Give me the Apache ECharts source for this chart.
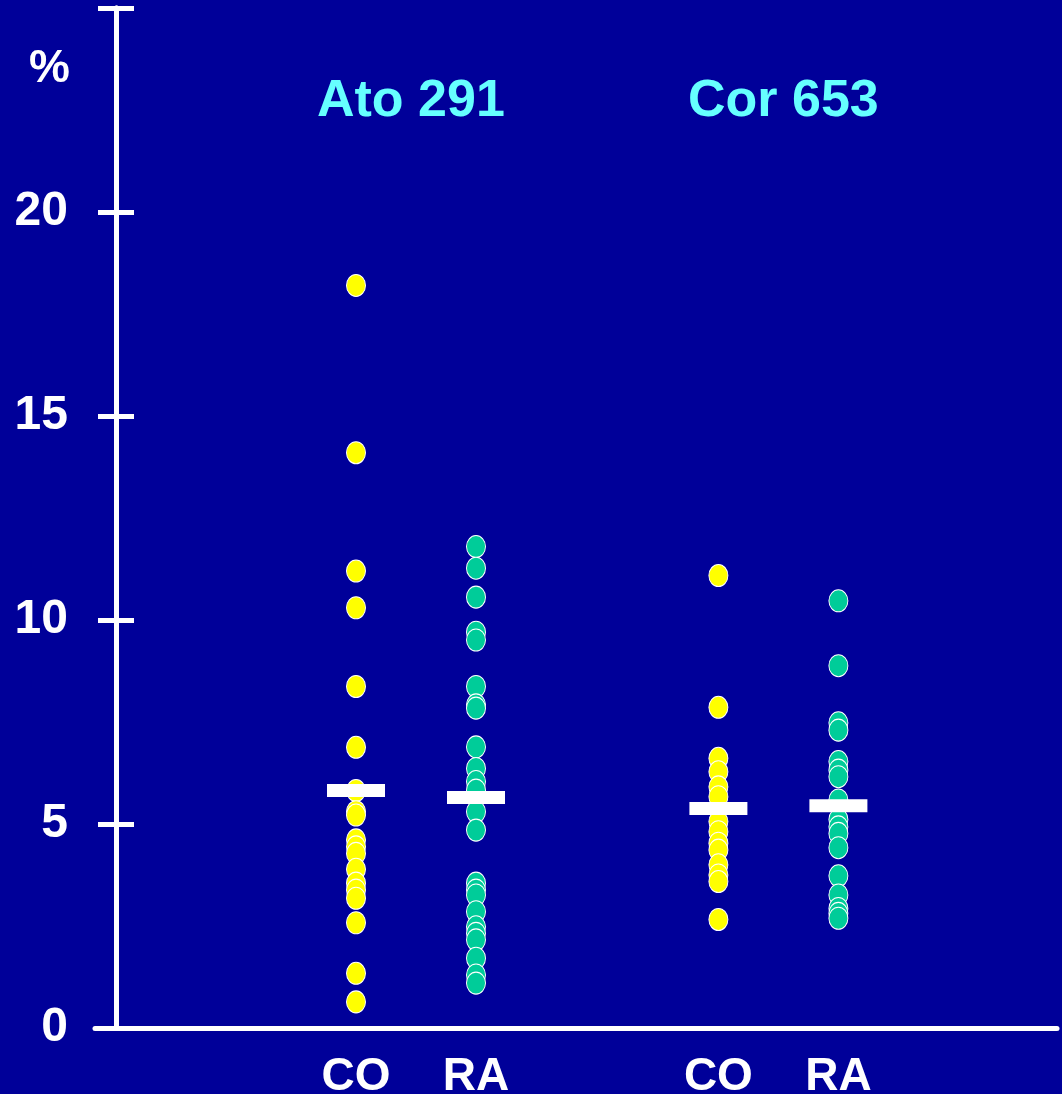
<!DOCTYPE html>
<html>
<head>
	<title>Ato 291 / Cor 653</title>
	<meta charset="utf-8"/>
	<style type="text/css">
		html,body{
			margin: 0;
			padding: 0;
			background: #000099;
		}
		#chart{
			width: 1062px;
			height: 1094px;
		}
	</style>
</head>
<body>
	<div id="chart"></div>

	<script src="https://cdn.jsdelivr.net/npm/echarts@6/dist/echarts.min.js"></script>
	<script type="text/javascript">

		// groups on the x axis
		var groupNames = ['CO', 'RA', 'CO', 'RA'];
		var groupPos = [3, 4.5, 7.53, 9.03];
		var yTicks = [0, 5, 10, 15, 20, 25];

		// values in %
		var atoCO = [18.2, 14.1, 11.2, 10.3, 8.37, 6.88, 5.82, 5.3, 5.22, 4.61, 4.44, 4.28, 3.89, 3.55, 3.38, 3.18, 2.58, 1.34, 0.64];
		var atoRA = [11.8, 11.27, 10.56, 9.7, 9.51, 8.37, 7.92, 7.84, 6.89, 6.36, 6.04, 5.83, 5.3, 4.85, 3.55, 3.38, 3.26, 2.85, 2.48, 2.32, 2.16, 1.71, 1.3, 1.1];
		var corCO = [11.09, 7.86, 6.61, 6.28, 5.91, 5.67, 5.06, 4.81, 4.53, 4.36, 4.0, 3.75, 3.59, 2.66];
		var corRA = [10.47, 8.88, 7.48, 7.3, 6.53, 6.32, 6.16, 5.59, 5.11, 4.93, 4.77, 4.42, 3.73, 3.26, 2.93, 2.81, 2.69];
		var means = [5.82, 5.65, 5.38, 5.45];

		var font = '"Liberation Sans", Arial, sans-serif';

		function pts(x, arr){
			return arr.map(function(v){ return [x, v]; });
		}

		function dots(x, arr, color){
			return {
				type: 'scatter',
				symbol: 'circle',
				symbolSize: [19, 22],
				z: 3,
				data: pts(x, arr),
				itemStyle: { color: color, borderColor: '#ffffff', borderWidth: 1, opacity: 1 }
			};
		}

		var yellow = '#ffff00';
		var green = '#00cc99';

		var chart = echarts.init(document.getElementById('chart'));

		var yBase = {
			type: 'value',
			position: 'left',
			min: yTicks[0],
			max: yTicks[yTicks.length - 1],
			interval: 5,
			splitLine: { show: false },
			axisLine: { show: true, onZero: true, onZeroAxisIndex: 0, lineStyle: { color: '#ffffff', width: 5 } }
		};

		option = {
			backgroundColor: '#000099',
			animation: false,
			title: [
				{ text: '%', left: 29, top: 46, padding: 0, textStyle: { color: '#ffffff', fontSize: 46, fontWeight: 'bold', fontFamily: font } },
				{ text: 'Ato 291', left: 317, top: 76, padding: 0, textStyle: { color: '#66ffff', fontSize: 52, fontWeight: 'bold', fontFamily: font } },
				{ text: 'Cor 653', left: 688, top: 76, padding: 0, textStyle: { color: '#66ffff', fontSize: 52, fontWeight: 'bold', fontFamily: font } }
			],
			grid: { left: 95, right: 5, top: 8, bottom: 66, outerBoundsMode: 'none', containLabel: false },
			xAxis: {
				type: 'value',
				min: -0.2625,
				max: 11.7625,
				splitLine: { show: false },
				axisTick: { show: false },
				axisLine: { lineStyle: { color: '#ffffff', width: 5 } },
				axisLabel: {
					customValues: groupPos,
					margin: 26,
					color: '#ffffff',
					fontSize: 46,
					fontWeight: 'bold',
					fontFamily: font,
					formatter: function(v){
						var i = groupPos.indexOf(v);
						return i < 0 ? '' : groupNames[i];
					}
				}
			},
			yAxis: [
				Object.assign({}, yBase, {
					axisTick: { show: true, length: 18, lineStyle: { color: '#ffffff', width: 5 } },
					axisLabel: {
						margin: 27, color: '#ffffff', fontSize: 48, fontWeight: 'bold', fontFamily: font,
						formatter: function(v){ return v === yTicks[yTicks.length - 1] ? '' : String(v); }
					}
				}),
				Object.assign({}, yBase, {
					axisTick: { show: true, inside: true, length: 18, lineStyle: { color: '#ffffff', width: 5 } },
					axisLabel: { show: false }
				})
			],
			series: [
				dots(groupPos[0], atoCO, yellow),
				dots(groupPos[1], atoRA, green),
				dots(groupPos[2], corCO, yellow),
				dots(groupPos[3], corRA, green),
				{
					type: 'scatter',
					symbol: 'rect',
					symbolSize: [58, 13],
					z: 5,
					itemStyle: { color: '#ffffff', opacity: 1 },
					data: groupPos.map(function(x, i){ return [x, means[i]]; })
				}
			]
		};

		chart.setOption(option);

	</script>
</body>
</html>
